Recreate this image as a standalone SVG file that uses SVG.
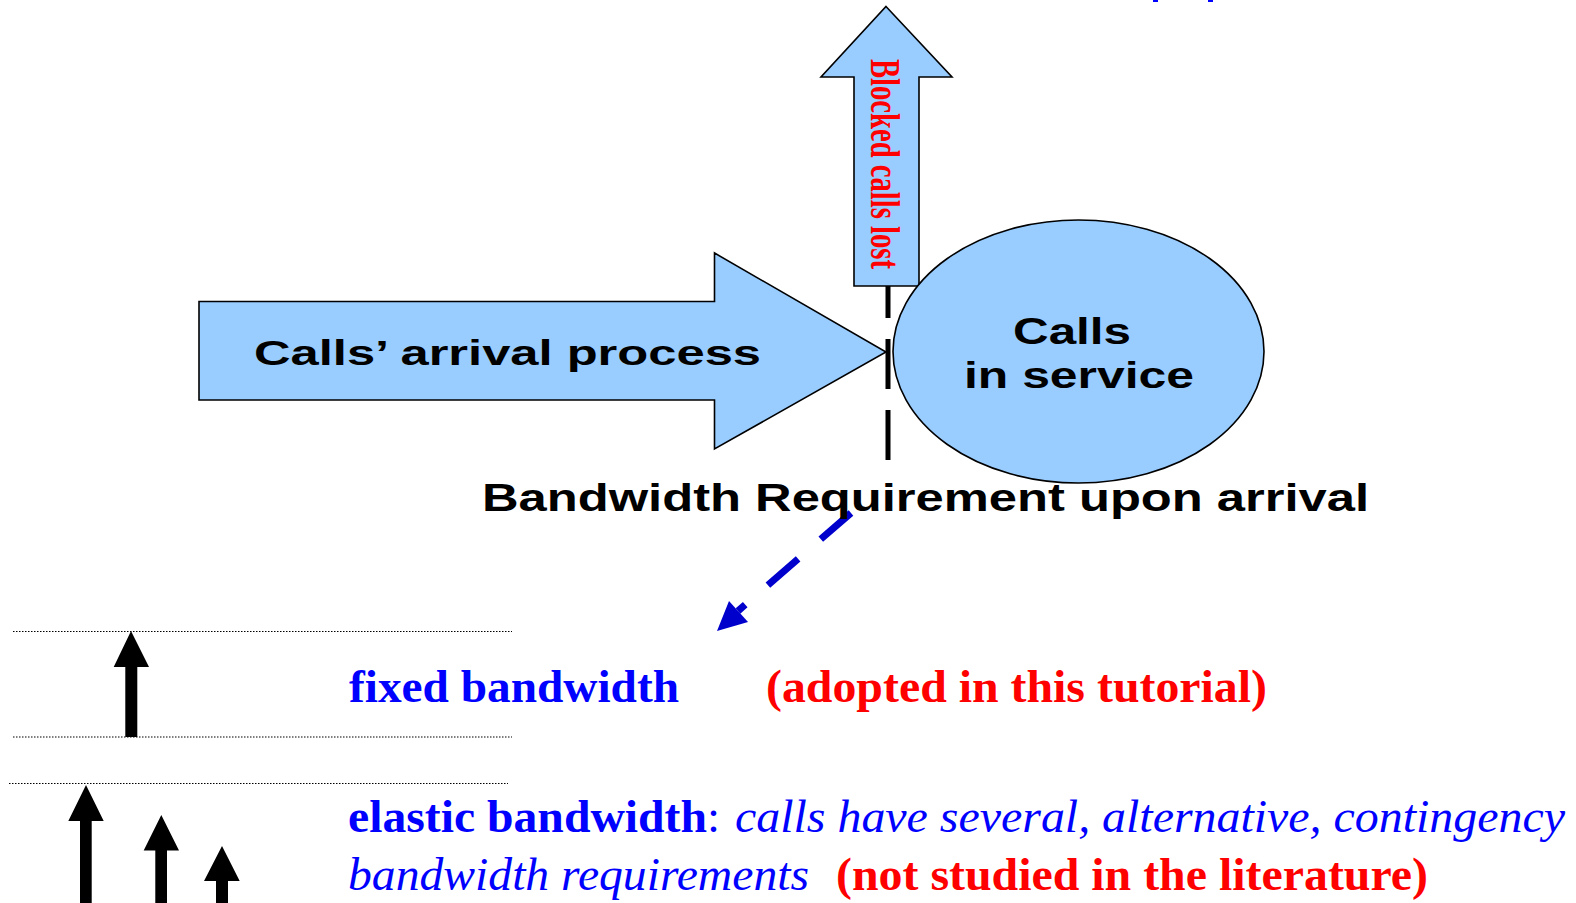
<svg xmlns="http://www.w3.org/2000/svg" width="1576" height="903" viewBox="0 0 1576 903">
<style>
.shape{fill:#99CCFF;stroke:#000;stroke-width:1.6}
.sans{font-family:"Liberation Sans",Arial,sans-serif;font-weight:bold;fill:#000}
.serif{font-family:"Liberation Serif","Times New Roman",serif}
.blue{fill:#0000FF}
.red{fill:#FF0000}
.dot{stroke:#000;stroke-width:1.2;stroke-dasharray:1.5 1.5;fill:none}
.blk{fill:#000}
</style>
<rect x="1153" y="0" width="5" height="2" fill="#0000FF"/>
<rect x="1208" y="0" width="5" height="2" fill="#0000FF"/>
<g id="arrival">
<polygon class="shape" points="199,301.5 714.5,301.5 714.5,253 886,352 714.5,449 714.5,400 199,400"/>
<text class="sans" x="254" y="365" font-size="35" textLength="507" lengthAdjust="spacingAndGlyphs">Calls’ arrival process</text>
</g>
<g id="connectors">
<line x1="888" y1="268" x2="888" y2="461" stroke="#000" stroke-width="5" stroke-dasharray="50 21"/>
<path d="M851,513 L738,611" stroke="#0000CC" stroke-width="7" stroke-dasharray="40 30" fill="none"/>
<polygon points="717,631 729,601 748,622" fill="#0000CC"/>
</g>
<g id="blocked">
<polygon class="shape" points="886,6.5 952,77 919,77 919,286 854,286 854,77 821,77"/>
<text class="serif red" font-weight="bold" font-size="42" transform="translate(871,59) rotate(90)" textLength="210" lengthAdjust="spacingAndGlyphs">Blocked calls lost</text>
</g>
<g id="service">
<ellipse class="shape" cx="1078.5" cy="351.5" rx="185.5" ry="131.5"/>
<text class="sans" x="1013" y="344" font-size="36" textLength="118" lengthAdjust="spacingAndGlyphs">Calls</text>
<text class="sans" x="964" y="388" font-size="36" textLength="230" lengthAdjust="spacingAndGlyphs">in service</text>
</g>
<g id="bandwidth-label">
<text class="sans" x="482" y="510.5" font-size="38" textLength="887" lengthAdjust="spacingAndGlyphs">Bandwidth Requirement upon arrival</text>
</g>
<g id="fixed">
<line class="dot" x1="13" y1="631.5" x2="512" y2="631.5"/>
<line class="dot" x1="13" y1="737" x2="512" y2="737"/>
<polygon class="blk" points="131,631 149,667 137.3,667 137.3,737 125.3,737 125.3,667 113.7,667"/>
<text class="serif blue" font-weight="bold" x="349" y="702" font-size="47" textLength="330" lengthAdjust="spacingAndGlyphs">fixed bandwidth</text>
<text class="serif red" font-weight="bold" x="766" y="702" font-size="47" textLength="501" lengthAdjust="spacingAndGlyphs">(adopted in this tutorial)</text>
</g>
<g id="elastic">
<line class="dot" x1="9" y1="783.5" x2="508" y2="783.5"/>
<polygon class="blk" points="86,785 103.7,821 91.7,821 91.7,903 80,903 80,821 68.3,821"/>
<polygon class="blk" points="161.3,815 179,850.5 167,850.5 167,903 155.3,903 155.3,850.5 143.7,850.5"/>
<polygon class="blk" points="222,846 239.7,881 228,881 228,903 216,903 216,881 204,881"/>
<text class="serif blue" font-weight="bold" x="348" y="832" font-size="47" textLength="359" lengthAdjust="spacingAndGlyphs">elastic bandwidth</text>
<text class="serif blue" x="707" y="832" font-size="47">:</text>
<text class="serif blue" font-style="italic" x="735" y="832" font-size="47" textLength="830" lengthAdjust="spacingAndGlyphs">calls have several, alternative, contingency</text>
<text class="serif blue" font-style="italic" x="348" y="890" font-size="47" textLength="461" lengthAdjust="spacingAndGlyphs">bandwidth requirements</text>
<text class="serif red" font-weight="bold" x="836" y="890" font-size="47" textLength="592" lengthAdjust="spacingAndGlyphs">(not studied in the literature)</text>
</g>
</svg>
